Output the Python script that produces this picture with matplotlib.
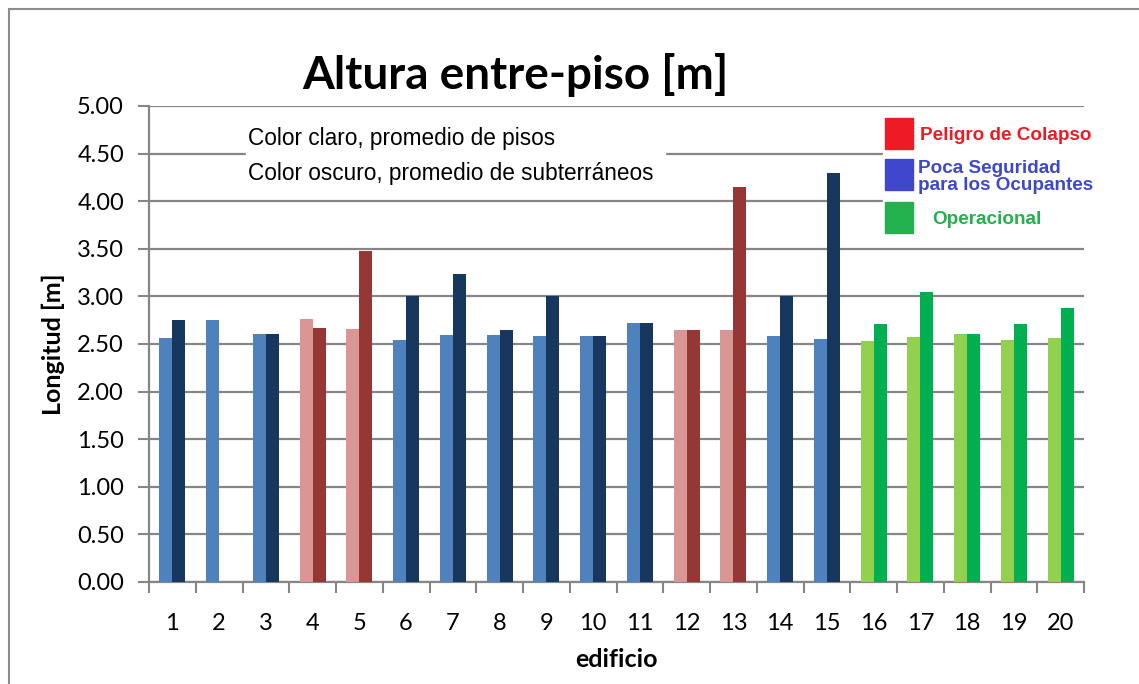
import numpy as np
import matplotlib
matplotlib.use("Agg")
import matplotlib.pyplot as plt
from matplotlib.patches import Rectangle

# datos
edificios = [str(i) for i in range(1, 21)]
pisos = [2.56, 2.75, 2.61, 2.76, 2.66, 2.54, 2.59, 2.59, 2.58, 2.58,
         2.72, 2.65, 2.65, 2.58, 2.55, 2.53, 2.57, 2.60, 2.54, 2.56]
subterraneos = [2.75, None, 2.60, 2.67, 3.48, 3.00, 3.24, 2.65, 3.00, 2.58,
                2.72, 2.65, 4.15, 3.00, 4.30, 2.71, 3.05, 2.60, 2.71, 2.88]
estado = ["ocup"] * 3 + ["colapso"] * 2 + ["ocup"] * 6 + ["colapso"] * 2 \
    + ["ocup"] * 2 + ["oper"] * 5

claro = {"ocup": "#4F81BD", "colapso": "#D99694", "oper": "#92D050"}
oscuro = {"ocup": "#17375E", "colapso": "#953735", "oper": "#00B050"}

leyenda = ["Peligro de Colapso", "Poca Seguridad\npara los Ocupantes", "Operacional"]
leyenda_col = ["#ED1C24", "#3F48CC", "#22B14C"]

W, H = 1139, 684
fig = plt.figure(figsize=(W / 100, H / 100), dpi=100)
ax = fig.add_axes([149 / W, 1 - 582 / H, (1084 - 149) / W, (582 - 106) / H])

x = np.arange(len(edificios))
w = 0.28
for i in range(len(edificios)):
    ax.bar(x[i] - w / 2, pisos[i], w, color=claro[estado[i]], zorder=3)
    if subterraneos[i] is not None:
        ax.bar(x[i] + w / 2, subterraneos[i], w, color=oscuro[estado[i]], zorder=3)

ax.set_xlim(-0.5, len(edificios) - 0.5)
ax.set_ylim(0, 5)
ax.set_yticks(np.arange(0, 5.01, 0.5))
ax.set_yticklabels(["%.2f" % v for v in np.arange(0, 5.01, 0.5)])
ax.set_xticks(x)
ax.set_xticklabels(edificios)
ax.set_xticks(np.arange(-0.5, len(edificios), 1), minor=True)
ax.tick_params(axis="x", which="major", length=0, pad=22)
ax.tick_params(axis="x", which="minor", length=8, color="#868686", width=1.5)
ax.tick_params(axis="y", length=8, color="#868686", width=1.5, pad=10)
for lab in ax.get_xticklabels() + ax.get_yticklabels():
    lab.set_family("Lato")
    lab.set_fontsize(17)

ax.grid(axis="y", color="#868686", lw=1.6, zorder=0)
for s in ["top", "right"]:
    ax.spines[s].set_visible(False)
for s in ["left", "bottom"]:
    ax.spines[s].set_color("#868686")
    ax.spines[s].set_linewidth(1.6)

ax.set_ylabel("Longitud [m]", family="Lato", fontweight="bold", fontsize=18)
ax.yaxis.set_label_coords(-84 / 935, 0.5)
ax.set_xlabel("edificio", family="Lato", fontweight="bold", fontsize=18)
ax.xaxis.set_label_coords(0.5, -66 / 476)

fig.text(515 / W, 1 - 75 / H, "Altura entre-piso [m]", family="Lato",
         fontweight="bold", fontsize=33, ha="center", va="center")

# cuadro de texto
fig.patches.append(Rectangle((246 / W, 1 - 190 / H), (665 - 246) / W, 70 / H,
                             transform=fig.transFigure, color="white", zorder=5))
fig.text(248 / W, 1 - 138 / H, "Color claro, promedio de pisos",
         family="Liberation Sans", fontsize=16.3, va="center", zorder=6)
fig.text(248 / W, 1 - 173 / H, "Color oscuro, promedio de subterráneos",
         family="Liberation Sans", fontsize=16.3, va="center", zorder=6)

# leyenda de estados
fig.patches.append(Rectangle((883 / W, 1 - 245 / H), (1083 - 883) / W, 135 / H,
                             transform=fig.transFigure, color="white", zorder=5))
cuadros_y = [118, 159, 202]
textos_x = [920, 918, 932]
textos_y = [135, 177, 219]
for yy, tx, ty, txt, c in zip(cuadros_y, textos_x, textos_y, leyenda, leyenda_col):
    fig.patches.append(Rectangle((885 / W, 1 - (yy + 31) / H), 28 / W, 31 / H,
                                 transform=fig.transFigure, color=c, zorder=6))
    fig.text(tx / W, 1 - ty / H, txt, family="Liberation Sans", fontweight="bold",
             fontsize=13.6, color=c, va="center", ha="left", linespacing=1.0, zorder=7)

# marco exterior
fig.patches.append(Rectangle((9 / W, -0.05), 1.2, 1 - 9 / H + 0.05,
                             transform=fig.transFigure, fill=False,
                             edgecolor="#8C8C8C", lw=1.5))

fig.savefig("out.png", dpi=100)
